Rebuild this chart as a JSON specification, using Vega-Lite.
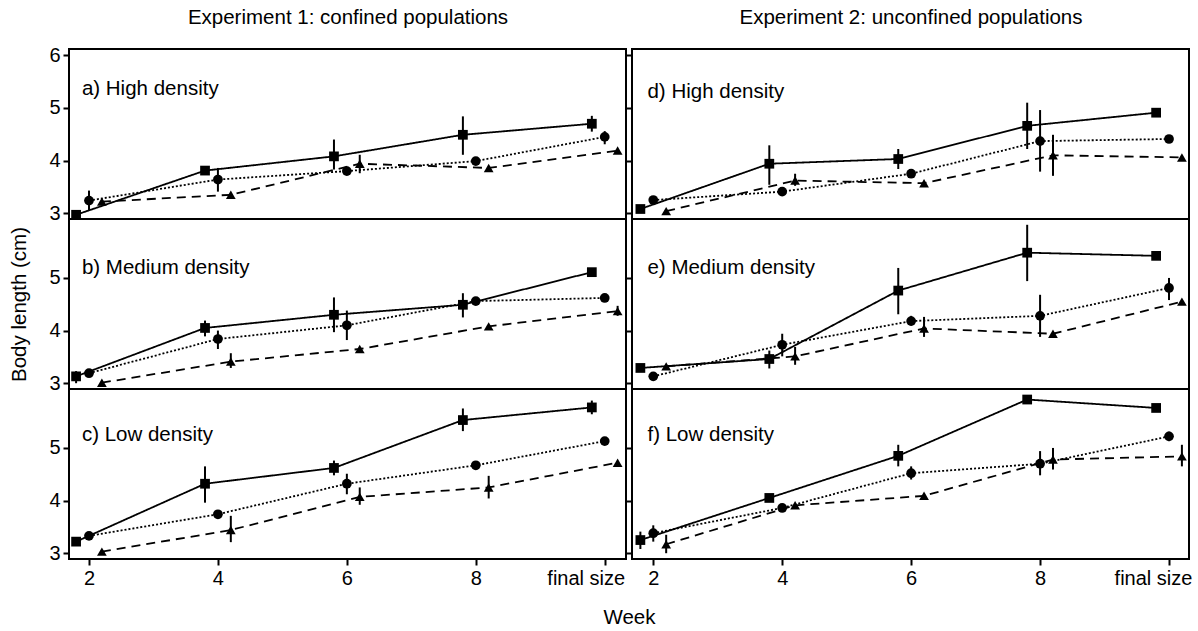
{
  "$schema": "https://vega.github.io/schema/vega-lite/v6.json",
  "background": "white",
  "padding": {"left": 8, "top": 6, "right": 5, "bottom": 4},
  "config": {
    "view": {"stroke": "black", "strokeWidth": 2},
    "axis": {"domain": false, "grid": false, "tickColor": "black", "tickWidth": 2, "tickSize": 6, "labelFont": "Liberation Sans", "labelFontSize": 20, "labelColor": "black", "labelPadding": 3, "titleFont": "Liberation Sans", "titleFontSize": 20.5, "titleFontWeight": "normal", "titleColor": "black"}
  },
  "datasets": {
    "pts": [
      {"panel": "a", "series": "square", "week": 1.8, "len": 2.97},
      {"panel": "a", "series": "square", "week": 3.8, "len": 3.81},
      {"panel": "a", "series": "square", "week": 5.8, "len": 4.08, "lo": 3.83, "hi": 4.40},
      {"panel": "a", "series": "square", "week": 7.8, "len": 4.49, "lo": 4.11, "hi": 4.84},
      {"panel": "a", "series": "square", "week": 9.8, "len": 4.70, "lo": 4.55, "hi": 4.85},
      {"panel": "a", "series": "circle", "week": 2, "len": 3.24, "lo": 3.06, "hi": 3.43},
      {"panel": "a", "series": "circle", "week": 4, "len": 3.64, "lo": 3.41, "hi": 3.86},
      {"panel": "a", "series": "circle", "week": 6, "len": 3.80},
      {"panel": "a", "series": "circle", "week": 8, "len": 3.99},
      {"panel": "a", "series": "circle", "week": 10, "len": 4.45, "lo": 4.31, "hi": 4.56},
      {"panel": "a", "series": "triangle", "week": 2.2, "len": 3.22},
      {"panel": "a", "series": "triangle", "week": 4.2, "len": 3.35},
      {"panel": "a", "series": "triangle", "week": 6.2, "len": 3.94, "lo": 3.76, "hi": 4.11},
      {"panel": "a", "series": "triangle", "week": 8.2, "len": 3.86},
      {"panel": "a", "series": "triangle", "week": 10.2, "len": 4.19},

      {"panel": "b", "series": "square", "week": 1.8, "len": 3.13, "lo": 3.0, "hi": 3.23},
      {"panel": "b", "series": "square", "week": 3.8, "len": 4.05, "lo": 3.89, "hi": 4.19},
      {"panel": "b", "series": "square", "week": 5.8, "len": 4.30, "lo": 3.97, "hi": 4.63},
      {"panel": "b", "series": "square", "week": 7.8, "len": 4.49, "lo": 4.25, "hi": 4.71},
      {"panel": "b", "series": "square", "week": 9.8, "len": 5.11, "lo": 5.03, "hi": 5.18},
      {"panel": "b", "series": "circle", "week": 2, "len": 3.19},
      {"panel": "b", "series": "circle", "week": 4, "len": 3.84, "lo": 3.65, "hi": 4.0},
      {"panel": "b", "series": "circle", "week": 6, "len": 4.10, "lo": 3.82, "hi": 4.38},
      {"panel": "b", "series": "circle", "week": 8, "len": 4.56},
      {"panel": "b", "series": "circle", "week": 10, "len": 4.62},
      {"panel": "b", "series": "triangle", "week": 2.2, "len": 3.01},
      {"panel": "b", "series": "triangle", "week": 4.2, "len": 3.41, "lo": 3.29, "hi": 3.57},
      {"panel": "b", "series": "triangle", "week": 6.2, "len": 3.65},
      {"panel": "b", "series": "triangle", "week": 8.2, "len": 4.08},
      {"panel": "b", "series": "triangle", "week": 10.2, "len": 4.37, "lo": 4.28, "hi": 4.47},

      {"panel": "c", "series": "square", "week": 1.8, "len": 3.22, "lo": 3.15, "hi": 3.29},
      {"panel": "c", "series": "square", "week": 3.8, "len": 4.32, "lo": 3.96, "hi": 4.65},
      {"panel": "c", "series": "square", "week": 5.8, "len": 4.62, "lo": 4.48, "hi": 4.76},
      {"panel": "c", "series": "square", "week": 7.8, "len": 5.53, "lo": 5.32, "hi": 5.75},
      {"panel": "c", "series": "square", "week": 9.8, "len": 5.77, "lo": 5.64, "hi": 5.90},
      {"panel": "c", "series": "circle", "week": 2, "len": 3.33},
      {"panel": "c", "series": "circle", "week": 4, "len": 3.74},
      {"panel": "c", "series": "circle", "week": 6, "len": 4.32, "lo": 4.12, "hi": 4.51},
      {"panel": "c", "series": "circle", "week": 8, "len": 4.67},
      {"panel": "c", "series": "circle", "week": 10, "len": 5.13},
      {"panel": "c", "series": "triangle", "week": 2.2, "len": 3.03},
      {"panel": "c", "series": "triangle", "week": 4.2, "len": 3.44, "lo": 3.21, "hi": 3.71},
      {"panel": "c", "series": "triangle", "week": 6.2, "len": 4.07, "lo": 3.92, "hi": 4.25},
      {"panel": "c", "series": "triangle", "week": 8.2, "len": 4.25, "lo": 4.04, "hi": 4.47},
      {"panel": "c", "series": "triangle", "week": 10.2, "len": 4.72},

      {"panel": "d", "series": "square", "week": 1.8, "len": 3.08},
      {"panel": "d", "series": "square", "week": 3.8, "len": 3.94, "lo": 3.54, "hi": 4.29},
      {"panel": "d", "series": "square", "week": 5.8, "len": 4.03, "lo": 3.84, "hi": 4.22},
      {"panel": "d", "series": "square", "week": 7.8, "len": 4.66, "lo": 4.22, "hi": 5.10},
      {"panel": "d", "series": "square", "week": 9.8, "len": 4.91},
      {"panel": "d", "series": "circle", "week": 2, "len": 3.25},
      {"panel": "d", "series": "circle", "week": 4, "len": 3.41},
      {"panel": "d", "series": "circle", "week": 6, "len": 3.75},
      {"panel": "d", "series": "circle", "week": 8, "len": 4.37, "lo": 3.79, "hi": 4.96},
      {"panel": "d", "series": "circle", "week": 10, "len": 4.41},
      {"panel": "d", "series": "triangle", "week": 2.2, "len": 3.04},
      {"panel": "d", "series": "triangle", "week": 4.2, "len": 3.62, "lo": 3.52, "hi": 3.75},
      {"panel": "d", "series": "triangle", "week": 6.2, "len": 3.57},
      {"panel": "d", "series": "triangle", "week": 8.2, "len": 4.10, "lo": 3.71, "hi": 4.49},
      {"panel": "d", "series": "triangle", "week": 10.2, "len": 4.06},

      {"panel": "e", "series": "square", "week": 1.8, "len": 3.29},
      {"panel": "e", "series": "square", "week": 3.8, "len": 3.46, "lo": 3.28, "hi": 3.62},
      {"panel": "e", "series": "square", "week": 5.8, "len": 4.76, "lo": 4.31, "hi": 5.19},
      {"panel": "e", "series": "square", "week": 7.8, "len": 5.48, "lo": 4.94, "hi": 6.01},
      {"panel": "e", "series": "square", "week": 9.8, "len": 5.42},
      {"panel": "e", "series": "circle", "week": 2, "len": 3.13},
      {"panel": "e", "series": "circle", "week": 4, "len": 3.73, "lo": 3.51, "hi": 3.94},
      {"panel": "e", "series": "circle", "week": 6, "len": 4.18, "lo": 4.10, "hi": 4.28},
      {"panel": "e", "series": "circle", "week": 8, "len": 4.28, "lo": 3.88, "hi": 4.68},
      {"panel": "e", "series": "circle", "week": 10, "len": 4.81, "lo": 4.58, "hi": 5.0},
      {"panel": "e", "series": "triangle", "week": 2.2, "len": 3.32},
      {"panel": "e", "series": "triangle", "week": 4.2, "len": 3.51, "lo": 3.35, "hi": 3.69},
      {"panel": "e", "series": "triangle", "week": 6.2, "len": 4.04, "lo": 3.88, "hi": 4.26},
      {"panel": "e", "series": "triangle", "week": 8.2, "len": 3.94},
      {"panel": "e", "series": "triangle", "week": 10.2, "len": 4.55},

      {"panel": "f", "series": "square", "week": 1.8, "len": 3.25, "lo": 3.08, "hi": 3.41},
      {"panel": "f", "series": "square", "week": 3.8, "len": 4.05},
      {"panel": "f", "series": "square", "week": 5.8, "len": 4.85, "lo": 4.65, "hi": 5.06},
      {"panel": "f", "series": "square", "week": 7.8, "len": 5.92},
      {"panel": "f", "series": "square", "week": 9.8, "len": 5.76},
      {"panel": "f", "series": "circle", "week": 2, "len": 3.38, "lo": 3.22, "hi": 3.53},
      {"panel": "f", "series": "circle", "week": 4, "len": 3.86},
      {"panel": "f", "series": "circle", "week": 6, "len": 4.52, "lo": 4.40, "hi": 4.65},
      {"panel": "f", "series": "circle", "week": 8, "len": 4.70, "lo": 4.48, "hi": 4.94},
      {"panel": "f", "series": "circle", "week": 10, "len": 5.22, "lo": 5.13, "hi": 5.31},
      {"panel": "f", "series": "triangle", "week": 2.2, "len": 3.17, "lo": 3.0, "hi": 3.35},
      {"panel": "f", "series": "triangle", "week": 4.2, "len": 3.91},
      {"panel": "f", "series": "triangle", "week": 6.2, "len": 4.09},
      {"panel": "f", "series": "triangle", "week": 8.2, "len": 4.78, "lo": 4.59, "hi": 5.0},
      {"panel": "f", "series": "triangle", "week": 10.2, "len": 4.84, "lo": 4.65, "hi": 5.06}
    ]
  },
  "data": {"name": "pts"},
  "columns": 2,
  "bounds": "flush",
  "spacing": {"row": 0, "column": 6},
  "concat": [
    {
      "width": 557, "height": 170,
      "layer": [
        {"transform": [{"filter": "datum.panel == 'a' && isValid(datum.lo)"}], "mark": {"type": "rule", "color": "black", "strokeWidth": 2},
         "encoding": {"x": {"field": "week", "type": "quantitative", "scale": {"domain": [1.69, 10.33], "nice": false, "zero": false}, "axis": {"orient": "top", "ticks": false, "labels": false, "title": "Experiment 1: confined populations", "titlePadding": 22}},
                      "y": {"field": "lo", "type": "quantitative", "scale": {"domain": [2.89, 6.12], "nice": false, "zero": false}, "axis": {"values": [3, 4, 5, 6], "format": "d", "title": "Body length (cm)", "titleOpacity": 0, "titlePadding": 19}},
                      "y2": {"field": "hi"}}},
        {"transform": [{"filter": "datum.panel == 'a'"}], "mark": {"type": "line", "color": "black", "strokeWidth": 1.8},
         "encoding": {"x": {"field": "week", "type": "quantitative"}, "y": {"field": "len", "type": "quantitative"},
                      "strokeDash": {"field": "series", "type": "nominal", "scale": {"domain": ["square", "circle", "triangle"], "range": [[1, 0], [2, 2], [9, 6]]}, "legend": null}}},
        {"transform": [{"filter": "datum.panel == 'a'"}], "mark": {"type": "point", "filled": true, "color": "black", "opacity": 1, "size": 95},
         "encoding": {"x": {"field": "week", "type": "quantitative"}, "y": {"field": "len", "type": "quantitative"},
                      "shape": {"field": "series", "type": "nominal", "scale": {"domain": ["square", "circle", "triangle"], "range": ["square", "circle", "triangle-up"]}, "legend": null}}},
        {"data": {"values": [{"label": "a) High density"}]}, "mark": {"type": "text", "align": "left", "baseline": "middle", "font": "Liberation Sans", "fontSize": 20.5, "color": "black"},
         "encoding": {"x": {"datum": 1.89, "type": "quantitative"}, "y": {"datum": 5.36, "type": "quantitative"}, "text": {"field": "label"}}}
      ]
    },
    {
      "width": 557, "height": 170,
      "layer": [
        {"transform": [{"filter": "datum.panel == 'd' && isValid(datum.lo)"}], "mark": {"type": "rule", "color": "black", "strokeWidth": 2},
         "encoding": {"x": {"field": "week", "type": "quantitative", "scale": {"domain": [1.67, 10.31], "nice": false, "zero": false}, "axis": {"orient": "top", "ticks": false, "labels": false, "title": "Experiment 2: unconfined populations", "titlePadding": 22}},
                      "y": {"field": "lo", "type": "quantitative", "scale": {"domain": [2.89, 6.12], "nice": false, "zero": false}, "axis": {"values": [3, 4, 5, 6], "labels": false, "title": null}},
                      "y2": {"field": "hi"}}},
        {"transform": [{"filter": "datum.panel == 'd'"}], "mark": {"type": "line", "color": "black", "strokeWidth": 1.8},
         "encoding": {"x": {"field": "week", "type": "quantitative"}, "y": {"field": "len", "type": "quantitative"},
                      "strokeDash": {"field": "series", "type": "nominal", "scale": {"domain": ["square", "circle", "triangle"], "range": [[1, 0], [2, 2], [9, 6]]}, "legend": null}}},
        {"transform": [{"filter": "datum.panel == 'd'"}], "mark": {"type": "point", "filled": true, "color": "black", "opacity": 1, "size": 95},
         "encoding": {"x": {"field": "week", "type": "quantitative"}, "y": {"field": "len", "type": "quantitative"},
                      "shape": {"field": "series", "type": "nominal", "scale": {"domain": ["square", "circle", "triangle"], "range": ["square", "circle", "triangle-up"]}, "legend": null}}},
        {"data": {"values": [{"label": "d) High density"}]}, "mark": {"type": "text", "align": "left", "baseline": "middle", "font": "Liberation Sans", "fontSize": 20.5, "color": "black"},
         "encoding": {"x": {"datum": 1.91, "type": "quantitative"}, "y": {"datum": 5.30, "type": "quantitative"}, "text": {"field": "label"}}}
      ]
    },
    {
      "width": 557, "height": 170,
      "layer": [
        {"transform": [{"filter": "datum.panel == 'b' && isValid(datum.lo)"}], "mark": {"type": "rule", "color": "black", "strokeWidth": 2},
         "encoding": {"x": {"field": "week", "type": "quantitative", "scale": {"domain": [1.69, 10.33], "nice": false, "zero": false}, "axis": null},
                      "y": {"field": "lo", "type": "quantitative", "scale": {"domain": [2.89, 6.12], "nice": false, "zero": false}, "axis": {"values": [3, 4, 5], "format": "d", "title": "Body length (cm)", "titlePadding": 19}},
                      "y2": {"field": "hi"}}},
        {"transform": [{"filter": "datum.panel == 'b'"}], "mark": {"type": "line", "color": "black", "strokeWidth": 1.8},
         "encoding": {"x": {"field": "week", "type": "quantitative"}, "y": {"field": "len", "type": "quantitative"},
                      "strokeDash": {"field": "series", "type": "nominal", "scale": {"domain": ["square", "circle", "triangle"], "range": [[1, 0], [2, 2], [9, 6]]}, "legend": null}}},
        {"transform": [{"filter": "datum.panel == 'b'"}], "mark": {"type": "point", "filled": true, "color": "black", "opacity": 1, "size": 95},
         "encoding": {"x": {"field": "week", "type": "quantitative"}, "y": {"field": "len", "type": "quantitative"},
                      "shape": {"field": "series", "type": "nominal", "scale": {"domain": ["square", "circle", "triangle"], "range": ["square", "circle", "triangle-up"]}, "legend": null}}},
        {"data": {"values": [{"label": "b) Medium density"}]}, "mark": {"type": "text", "align": "left", "baseline": "middle", "font": "Liberation Sans", "fontSize": 20.5, "color": "black"},
         "encoding": {"x": {"datum": 1.89, "type": "quantitative"}, "y": {"datum": 5.18, "type": "quantitative"}, "text": {"field": "label"}}}
      ]
    },
    {
      "width": 557, "height": 170,
      "layer": [
        {"transform": [{"filter": "datum.panel == 'e' && isValid(datum.lo)"}], "mark": {"type": "rule", "color": "black", "strokeWidth": 2},
         "encoding": {"x": {"field": "week", "type": "quantitative", "scale": {"domain": [1.67, 10.31], "nice": false, "zero": false}, "axis": null},
                      "y": {"field": "lo", "type": "quantitative", "scale": {"domain": [2.89, 6.12], "nice": false, "zero": false}, "axis": {"values": [3, 4, 5], "labels": false, "title": null}},
                      "y2": {"field": "hi"}}},
        {"transform": [{"filter": "datum.panel == 'e'"}], "mark": {"type": "line", "color": "black", "strokeWidth": 1.8},
         "encoding": {"x": {"field": "week", "type": "quantitative"}, "y": {"field": "len", "type": "quantitative"},
                      "strokeDash": {"field": "series", "type": "nominal", "scale": {"domain": ["square", "circle", "triangle"], "range": [[1, 0], [2, 2], [9, 6]]}, "legend": null}}},
        {"transform": [{"filter": "datum.panel == 'e'"}], "mark": {"type": "point", "filled": true, "color": "black", "opacity": 1, "size": 95},
         "encoding": {"x": {"field": "week", "type": "quantitative"}, "y": {"field": "len", "type": "quantitative"},
                      "shape": {"field": "series", "type": "nominal", "scale": {"domain": ["square", "circle", "triangle"], "range": ["square", "circle", "triangle-up"]}, "legend": null}}},
        {"data": {"values": [{"label": "e) Medium density"}]}, "mark": {"type": "text", "align": "left", "baseline": "middle", "font": "Liberation Sans", "fontSize": 20.5, "color": "black"},
         "encoding": {"x": {"datum": 1.91, "type": "quantitative"}, "y": {"datum": 5.18, "type": "quantitative"}, "text": {"field": "label"}}}
      ]
    },
    {
      "width": 557, "height": 170,
      "layer": [
        {"transform": [{"filter": "datum.panel == 'c' && isValid(datum.lo)"}], "mark": {"type": "rule", "color": "black", "strokeWidth": 2},
         "encoding": {"x": {"field": "week", "type": "quantitative", "scale": {"domain": [1.69, 10.33], "nice": false, "zero": false}, "axis": {"values": [2, 4, 6, 8, 10], "format": "d", "labelExpr": "datum.value == 10 ? 'final size' : datum.label", "labelOffset": {"expr": "datum.value == 10 ? -19 : 0"}, "title": "Week", "titleX": 560, "titlePadding": 19}},
                      "y": {"field": "lo", "type": "quantitative", "scale": {"domain": [2.89, 6.12], "nice": false, "zero": false}, "axis": {"values": [3, 4, 5], "format": "d", "title": "Body length (cm)", "titleOpacity": 0, "titlePadding": 19}},
                      "y2": {"field": "hi"}}},
        {"transform": [{"filter": "datum.panel == 'c'"}], "mark": {"type": "line", "color": "black", "strokeWidth": 1.8},
         "encoding": {"x": {"field": "week", "type": "quantitative"}, "y": {"field": "len", "type": "quantitative"},
                      "strokeDash": {"field": "series", "type": "nominal", "scale": {"domain": ["square", "circle", "triangle"], "range": [[1, 0], [2, 2], [9, 6]]}, "legend": null}}},
        {"transform": [{"filter": "datum.panel == 'c'"}], "mark": {"type": "point", "filled": true, "color": "black", "opacity": 1, "size": 95},
         "encoding": {"x": {"field": "week", "type": "quantitative"}, "y": {"field": "len", "type": "quantitative"},
                      "shape": {"field": "series", "type": "nominal", "scale": {"domain": ["square", "circle", "triangle"], "range": ["square", "circle", "triangle-up"]}, "legend": null}}},
        {"data": {"values": [{"label": "c) Low density"}]}, "mark": {"type": "text", "align": "left", "baseline": "middle", "font": "Liberation Sans", "fontSize": 20.5, "color": "black"},
         "encoding": {"x": {"datum": 1.89, "type": "quantitative"}, "y": {"datum": 5.25, "type": "quantitative"}, "text": {"field": "label"}}}
      ]
    },
    {
      "width": 557, "height": 170,
      "layer": [
        {"transform": [{"filter": "datum.panel == 'f' && isValid(datum.lo)"}], "mark": {"type": "rule", "color": "black", "strokeWidth": 2},
         "encoding": {"x": {"field": "week", "type": "quantitative", "scale": {"domain": [1.67, 10.31], "nice": false, "zero": false}, "axis": {"values": [2, 4, 6, 8, 10], "format": "d", "labelExpr": "datum.value == 10 ? 'final size' : datum.label", "labelOffset": {"expr": "datum.value == 10 ? -16 : 0"}, "title": null}},
                      "y": {"field": "lo", "type": "quantitative", "scale": {"domain": [2.89, 6.12], "nice": false, "zero": false}, "axis": {"values": [3, 4, 5], "labels": false, "title": null}},
                      "y2": {"field": "hi"}}},
        {"transform": [{"filter": "datum.panel == 'f'"}], "mark": {"type": "line", "color": "black", "strokeWidth": 1.8},
         "encoding": {"x": {"field": "week", "type": "quantitative"}, "y": {"field": "len", "type": "quantitative"},
                      "strokeDash": {"field": "series", "type": "nominal", "scale": {"domain": ["square", "circle", "triangle"], "range": [[1, 0], [2, 2], [9, 6]]}, "legend": null}}},
        {"transform": [{"filter": "datum.panel == 'f'"}], "mark": {"type": "point", "filled": true, "color": "black", "opacity": 1, "size": 95},
         "encoding": {"x": {"field": "week", "type": "quantitative"}, "y": {"field": "len", "type": "quantitative"},
                      "shape": {"field": "series", "type": "nominal", "scale": {"domain": ["square", "circle", "triangle"], "range": ["square", "circle", "triangle-up"]}, "legend": null}}},
        {"data": {"values": [{"label": "f) Low density"}]}, "mark": {"type": "text", "align": "left", "baseline": "middle", "font": "Liberation Sans", "fontSize": 20.5, "color": "black"},
         "encoding": {"x": {"datum": 1.91, "type": "quantitative"}, "y": {"datum": 5.25, "type": "quantitative"}, "text": {"field": "label"}}}
      ]
    }
  ]
}
